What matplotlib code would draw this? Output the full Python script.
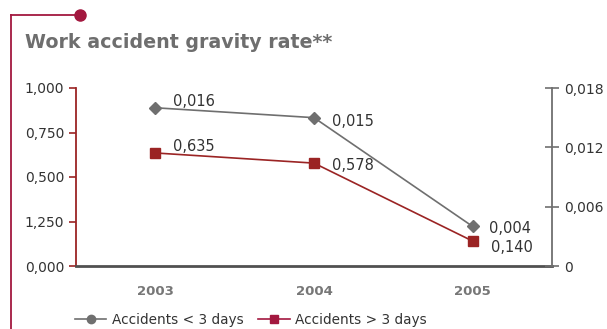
import matplotlib.pyplot as plt
from matplotlib.lines import Line2D

years = ['2003', '2004', '2005']
less_3_days = [0.016, 0.015, 0.004]     # right axis
more_3_days = [0.635, 0.578, 0.140]     # left axis
left_ticks = [0, 0.25, 0.5, 0.75, 1.0]
left_labels = ['0,000', '1,250', '0,500', '0,750', '1,000']
right_ticks = [0, 0.006, 0.012, 0.018]
right_labels = ['0', '0,006', '0,012', '0,018']

gray = '#6f6f6f'
red = '#9b2424'
crimson = '#a3183f'
txt = '#333333'

fig = plt.figure(figsize=(6.07, 3.29), dpi=100)
ax = fig.add_axes([76/607, 1-266/329, 476/607, 178/329])
ax2 = ax.twinx()

x = list(range(len(years)))

ax.plot(x, more_3_days, color=red, lw=1.2, marker='s', ms=6.5, zorder=3)
ax2.plot(x, less_3_days, color=gray, lw=1.2, marker='D', ms=6, zorder=3)

ax.set_xlim(-0.5, 2.5)
ax.set_ylim(0, 1.0)
ax2.set_ylim(0, 0.018)

ax.set_yticks(left_ticks)
ax.set_yticklabels(left_labels)
ax2.set_yticks(right_ticks)
ax2.set_yticklabels(right_labels)
ax.set_xticks(x)
ax.set_xticklabels(years, fontweight='bold', color='#777777', fontsize=9.5)

for a in (ax, ax2):
    a.spines['top'].set_visible(False)
    a.set_facecolor('none')
ax.spines['right'].set_visible(False)
ax2.spines['left'].set_visible(False)
ax2.spines['bottom'].set_visible(False)
ax.spines['left'].set_color(red)
ax.spines['left'].set_linewidth(1.3)
ax.spines['bottom'].set_color('#505050')
ax.spines['bottom'].set_linewidth(2)
ax2.spines['right'].set_color(gray)
ax2.spines['right'].set_linewidth(1.3)

ax.tick_params(axis='y', colors=red, labelcolor=txt, labelsize=10, length=5, width=1.2)
ax.tick_params(axis='x', length=0, pad=14)
ax2.tick_params(axis='y', colors=gray, labelcolor=txt, labelsize=10, length=10,
                width=1.2, direction='inout', pad=4)

fmt = lambda v: ('%.3f' % v).replace('.', ',')
gray_off = [(18, 6), (18, -4), (16, -2)]
red_off = [(18, 6), (18, -2), (18, -6)]
for i in x:
    ax2.annotate(fmt(less_3_days[i]), (i, less_3_days[i]), xytext=gray_off[i],
                 textcoords='offset pixels', va='center', ha='left',
                 fontsize=10.5, color=txt)
    ax.annotate(fmt(more_3_days[i]), (i, more_3_days[i]), xytext=red_off[i],
                textcoords='offset pixels', va='center', ha='left',
                fontsize=10.5, color=txt)

handles = [Line2D([], [], color=gray, marker='o', ms=6, lw=1.2),
           Line2D([], [], color=crimson, marker='s', ms=6, lw=1.2)]
fig.legend(handles, ['Accidents < 3 days', 'Accidents > 3 days'],
           loc='center', bbox_to_anchor=(251/607, 1-320/329), ncol=2,
           frameon=False, fontsize=9.8, handlelength=2.3, columnspacing=1.1,
           handletextpad=0.4, labelcolor=txt)

# title and decoration
fig.text(25/607, 1-43/329, 'Work accident gravity rate**', fontsize=13.7,
         fontweight='bold', color='#6e6e6e', va='center', ha='left')
fig.add_artist(Line2D([11/607, 80/607], [1-15/329, 1-15/329], color=crimson, lw=1.3))
fig.add_artist(Line2D([11/607, 11/607], [1-15/329, 0], color=crimson, lw=1.3))
fig.add_artist(Line2D([80/607], [1-15/329], color=crimson, marker='o', ms=8, lw=0))

fig.savefig('out.png', dpi=100)
